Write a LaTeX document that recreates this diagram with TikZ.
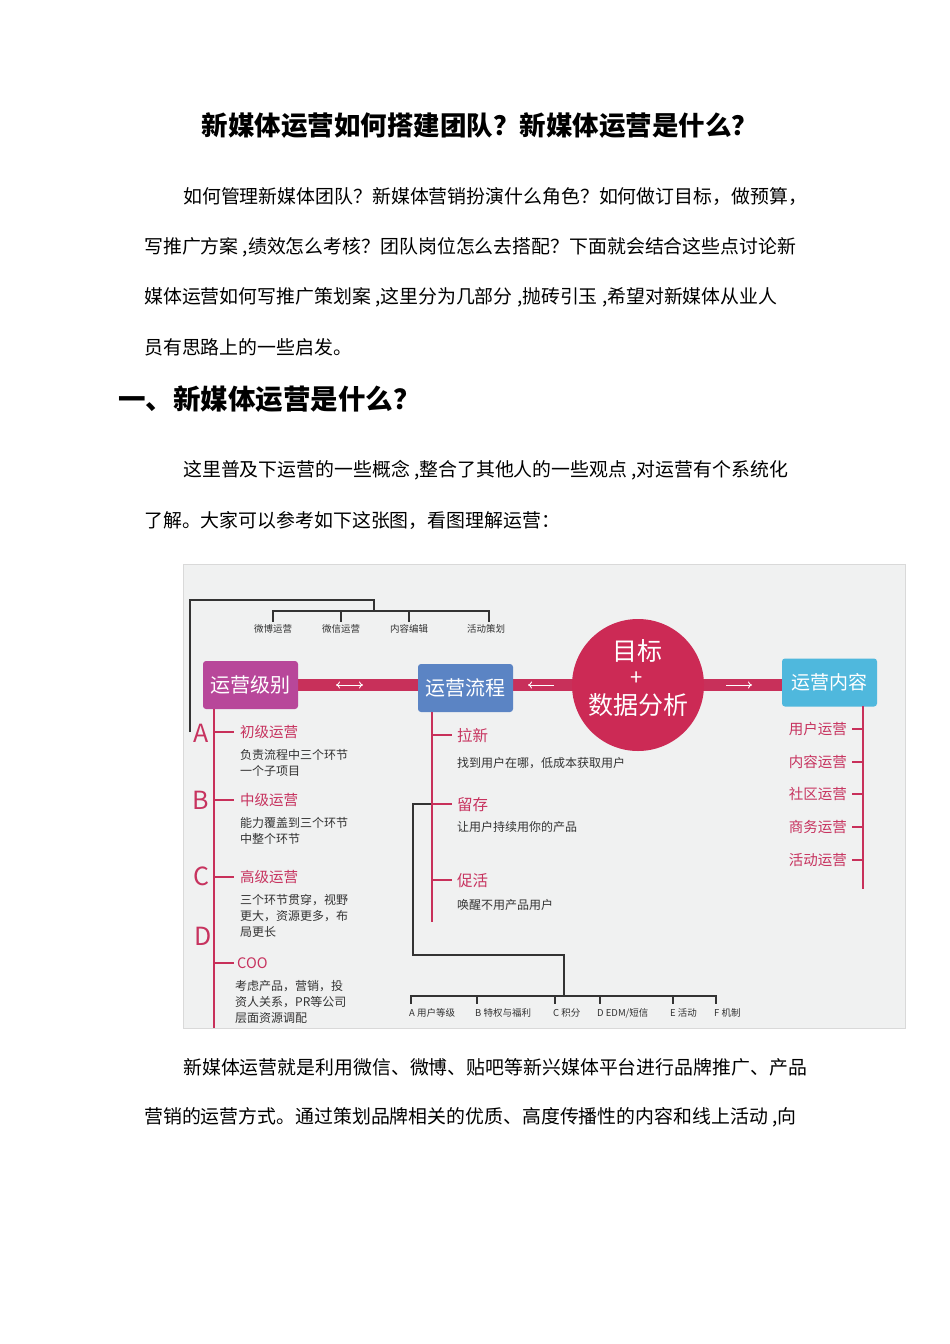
\documentclass[tikz,border=0pt]{standalone}
\usepackage{fontspec}
\usetikzlibrary{arrows.meta}
\setmainfont{Noto Sans CJK SC}
\definecolor{rbar}{HTML}{C8305A}
\definecolor{rtxt}{HTML}{C7335F}
\definecolor{mag}{HTML}{B8479A}
\definecolor{blu}{HTML}{5B84C4}
\definecolor{cya}{HTML}{4FB8DD}
\definecolor{circ}{HTML}{CC2A55}
\definecolor{bg}{HTML}{F0F1F1}
\definecolor{dk}{HTML}{333333}
\tikzset{x=1pt,y=-1pt,
 para/.style={anchor=west,inner sep=0pt,font=\fontsize{18.9}{20}\selectfont,text=black},
 hbox/.style={rounded corners=3pt,minimum width=95pt,minimum height=48pt,text=white,font=\fontsize{20}{20}\selectfont,inner sep=0pt},
 small/.style={inner sep=0pt,font=\fontsize{9.5}{10}\selectfont,text=dk},
 lvl/.style={anchor=west,inner sep=0pt,font=\fontsize{14.5}{15}\selectfont,text=rtxt},
 desc/.style={anchor=west,inner sep=0pt,font=\fontsize{12}{16}\selectfont,text=dk,align=left},
 letter/.style={inner sep=0pt,font=\fontsize{25}{25}\selectfont,text=rtxt},
 rline/.style={draw=rbar,line width=2pt},
 kline/.style={draw=dk,line width=1.3pt},
 warr/.style={draw=white,line width=0.9pt,>={To[length=4pt,width=7pt]}}}
\begin{document}
\begin{tikzpicture}
\useasboundingbox (0,0) rectangle (950,1344);
\fill[white] (0,0) rectangle (950,1344);
\node (title) at (480,126) {\fontsize{26.5}{28}\selectfont\bfseries 新媒体运营如何搭建团队？新媒体运营是什么？};
\node[para] (p1) at (183,197) {如何管理新媒体团队？新媒体营销扮演什么角色？如何做订目标，做预算，};
\node[para] (p2) at (144,247) {写推广方案 ,绩效怎么考核？团队岗位怎么去搭配？下面就会结合这些点讨论新};
\node[para] (p3) at (144,297) {媒体运营如何写推广策划案 ,这里分为几部分 ,抛砖引玉 ,希望对新媒体从业人};
\node[para] (p4) at (144,347) {员有思路上的一些启发。};
\node[para,font=\fontsize{27.5}{28}\selectfont\bfseries] (h1) at (118,399) {一、新媒体运营是什么？};
\node[para] (p5) at (183,470) {这里普及下运营的一些概念 ,整合了其他人的一些观点 ,对运营有个系统化};
\node[para] (p6) at (144,520) {了解。大家可以参考如下这张图，看图理解运营：};
\node[para] (p7) at (183,1067) {新媒体运营就是利用微信、微博、贴吧等新兴媒体平台进行品牌推广、产品};
\node[para] (p8) at (144,1117) {营销的运营方式。通过策划品牌相关的优质、高度传播性的内容和线上活动 ,向};
% image area
\fill[bg] (183,564) rectangle (905,1028);
\draw[draw=black!15,line width=0.6pt] (183,564) rectangle (905,1028);
% top bracket
\draw[kline] (190,732) -- (190,600) -- (374,600) -- (374,611);
\draw[kline] (273,622) -- (273,611) -- (489,611) -- (489,622);
\draw[kline] (341,611) -- (341,622) (409,611) -- (409,622);
\node[small] (t1) at (273,629) {微博运营};
\node[small] (t2) at (341,629) {微信运营};
\node[small] (t3) at (409,629) {内容编辑};
\node[small] (t4) at (486,629) {活动策划};
% main bar
\fill[rbar] (295,679) rectangle (785,691);
\node[hbox,fill=mag] (lv) at (250.5,685) {运营级别};
\node[hbox,fill=blu] (fl) at (465.5,688) {运营流程};
\node[hbox,fill=cya,font=\fontsize{19}{20}\selectfont] (nr) at (829.5,682.5) {运营内容};
\node[circle,fill=circ,minimum size=132pt,inner sep=0pt] (c) at (638,685) {};
\node[text=white,inner sep=0pt,font=\fontsize{25}{25}\selectfont] (c1) at (637,651) {目标};
\node[text=white,inner sep=0pt,font=\fontsize{22}{22}\selectfont] (c2) at (637,679) {+};
\node[text=white,inner sep=0pt,font=\fontsize{25}{25}\selectfont] (c3) at (638,705) {数据分析};
\draw[warr,<->] (336,685) -- (363,685);
\draw[warr,<-] (528,685) -- (554,685);
\draw[warr,->] (726,685) -- (752,685);
% left column
\draw[rline] (214,709) -- (214,1028);
\foreach \y in {732,800,877,963} \draw[rline] (214,\y) -- (234,\y);
\node[letter] (A) at (201,733) {A};
\node[letter] (B) at (201,800) {B};
\node[letter] (C) at (201,876) {C};
\node[letter] (D) at (203,936) {D};
\node[lvl] (l1) at (240,732) {初级运营};
\node[desc] (d1) at (240,763) {负责流程中三个环节\\一个子项目};
\node[lvl] (l2) at (240,800) {中级运营};
\node[desc] (d2) at (240,831) {能力覆盖到三个环节\\中整个环节};
\node[lvl] (l3) at (240,877) {高级运营};
\node[desc] (d3) at (240,916) {三个环节贯穿，视野\\更大，资源更多，布\\局更长};
\node[lvl] (l4) at (237,963) {COO};
\node[desc] (d4) at (235,1002) {考虑产品，营销，投\\资人关系，PR等公司\\层面资源调配};
% middle column
\draw[kline] (432,804) -- (413,804) -- (413,955) -- (564,955) -- (564,996);
\draw[kline] (411,1004) -- (411,996) -- (716,996) -- (716,1004);
\foreach \x in {477,555,600,673} \draw[kline] (\x,996) -- (\x,1004);
\node[small,anchor=west] (b1) at (409,1013) {A 用户等级};
\node[small,anchor=west] (b2) at (475,1013) {B 特权与福利};
\node[small,anchor=west] (b3) at (553,1013) {C 积分};
\node[small,anchor=west] (b4) at (597,1013) {D EDM/短信};
\node[small,anchor=west] (b5) at (670,1013) {E 活动};
\node[small,anchor=west] (b6) at (714,1013) {F 机制};
\draw[rline] (432,712) -- (432,922);
\foreach \y in {735,804,880} \draw[rline] (432,\y) -- (452,\y);
\node[lvl,font=\fontsize{15.5}{16}\selectfont] (m1) at (457,736) {拉新};
\node[desc] (md1) at (457,763) {找到用户在哪，低成本获取用户};
\node[lvl,font=\fontsize{15.5}{16}\selectfont] (m2) at (457,805) {留存};
\node[desc] (md2) at (457,827) {让用户持续用你的产品};
\node[lvl,font=\fontsize{15.5}{16}\selectfont] (m3) at (457,881) {促活};
\node[desc] (md3) at (457,905) {唤醒不用产品用户};
% right column
\draw[rline] (863,706) -- (863,889);
\foreach \y/\t in {729/用户运营,762/内容运营,794/社区运营,827/商务运营,860/活动运营}{
 \draw[rline] (852,\y) -- (863,\y);
 \node[lvl,anchor=east] at (847,\y) {\t};}
\end{tikzpicture}
\end{document}
